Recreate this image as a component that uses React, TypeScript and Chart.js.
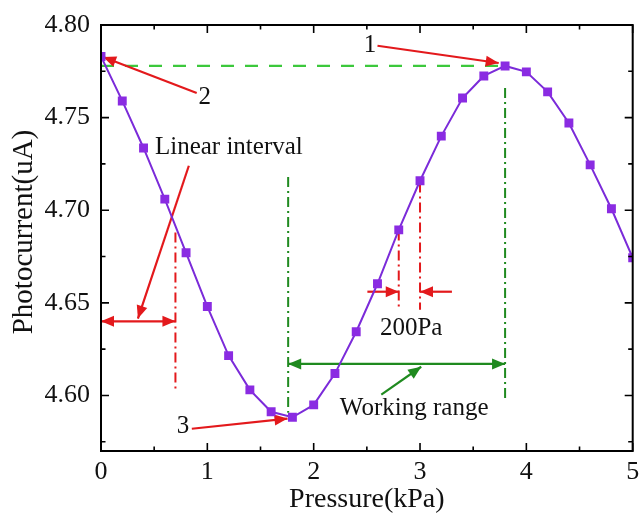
import React, { useEffect, useRef } from "react";
import { Chart, registerables } from "chart.js";

Chart.register(...registerables);

// Measured response: pressure (kPa) vs photocurrent (uA)
const pressure = [
  0, 0.2, 0.4, 0.6, 0.8, 1.0, 1.2, 1.4, 1.6, 1.8, 2.0, 2.2, 2.4,
  2.6, 2.8, 3.0, 3.2, 3.4, 3.6, 3.8, 4.0, 4.2, 4.4, 4.6, 4.8, 5.0,
];
const photocurrent = [
  4.783, 4.759, 4.7336, 4.706, 4.677, 4.648, 4.6215, 4.603, 4.5912, 4.5882,
  4.5949, 4.6118, 4.6344, 4.6603, 4.6894, 4.7159, 4.740, 4.7606, 4.7725,
  4.7779, 4.7747, 4.7639, 4.7471, 4.7245, 4.7008, 4.6743,
];
const xTicks = [0, 1, 2, 3, 4, 5];
const yTicks = [4.6, 4.65, 4.7, 4.75, 4.8];
const xMinorTicks = [0.5, 1.5, 2.5, 3.5, 4.5];
const yMinorTicks = [4.575, 4.625, 4.675, 4.725, 4.775];
const yTitle = "Photocurrent(uA)";
const xTitle = "Pressure(kPa)";

// Annotation anchors, in data units (kPa, uA)
const peakIndex = 19;
const linearEdge = 0.7;
const workingRange = [1.76, 3.8];
const stepMarks = [2.8, 3.0];

const SERIF = '"Liberation Serif", "Times New Roman", serif';
const RED = "#e3191c";
const DARK_GREEN = "#1f8a1f";
const LIGHT_GREEN = "#3cc83c";
const LINE_PURPLE = "#7b2bd9";
const MARK_PURPLE = "#8a2be2";

type Pt = [number, number];

function arrowHead(ctx: CanvasRenderingContext2D, from: Pt, to: Pt, len = 13, half = 5.5) {
  const ang = Math.atan2(to[1] - from[1], to[0] - from[0]);
  ctx.beginPath();
  ctx.moveTo(to[0], to[1]);
  ctx.lineTo(to[0] - len * Math.cos(ang) + half * Math.sin(ang), to[1] - len * Math.sin(ang) - half * Math.cos(ang));
  ctx.lineTo(to[0] - len * Math.cos(ang) - half * Math.sin(ang), to[1] - len * Math.sin(ang) + half * Math.cos(ang));
  ctx.closePath();
  ctx.fill();
}

function arrow(ctx: CanvasRenderingContext2D, from: Pt, to: Pt, color: string, both = false) {
  ctx.save();
  ctx.strokeStyle = color;
  ctx.fillStyle = color;
  ctx.lineWidth = 2.2;
  ctx.setLineDash([]);
  ctx.beginPath();
  ctx.moveTo(from[0], from[1]);
  ctx.lineTo(to[0], to[1]);
  ctx.stroke();
  arrowHead(ctx, from, to);
  if (both) arrowHead(ctx, to, from);
  ctx.restore();
}

function vline(ctx: CanvasRenderingContext2D, x: number, y1: number, y2: number, color: string) {
  ctx.save();
  ctx.strokeStyle = color;
  ctx.lineWidth = 2;
  ctx.setLineDash([10, 4, 2, 4]);
  ctx.beginPath();
  ctx.moveTo(x, y1);
  ctx.lineTo(x, y2);
  ctx.stroke();
  ctx.restore();
}

function label(ctx: CanvasRenderingContext2D, text: string, x: number, y: number, align: CanvasTextAlign = "center") {
  ctx.save();
  ctx.fillStyle = "#111";
  ctx.font = `25px ${SERIF}`;
  ctx.textAlign = align;
  ctx.textBaseline = "middle";
  ctx.fillText(text, x, y);
  ctx.restore();
}

const annotations = {
  id: "annotations",
  beforeDatasetsDraw(chart: any) {
    const { ctx } = chart;
    const xs = chart.scales.x;
    const ys = chart.scales.y;
    const P = (x: number, y: number): Pt => [xs.getPixelForValue(x), ys.getPixelForValue(y)];
    const peak = photocurrent[peakIndex];

    // reference level through the peak
    ctx.save();
    ctx.strokeStyle = LIGHT_GREEN;
    ctx.lineWidth = 2.2;
    ctx.setLineDash([13, 11]);
    ctx.beginPath();
    ctx.moveTo(...P(0, peak));
    ctx.lineTo(...P(pressure[peakIndex], peak));
    ctx.stroke();
    ctx.restore();

    // linear interval marker
    const [lx, lTop] = P(linearEdge, 4.688);
    const lBottom = ys.getPixelForValue(4.603);
    vline(ctx, lx, lTop, lBottom, RED);
    arrow(ctx, P(0, 4.64), P(linearEdge, 4.64), RED, true);
    arrow(ctx, P(0.826, 4.724), P(0.347, 4.6415), RED);

    // working range
    const [wx0] = P(workingRange[0], 0);
    const [wx1] = P(workingRange[1], 0);
    vline(ctx, wx0, ys.getPixelForValue(4.718), ys.getPixelForValue(4.5907), DARK_GREEN);
    vline(ctx, wx1, ys.getPixelForValue(4.766), ys.getPixelForValue(4.5977), DARK_GREEN);
    arrow(ctx, P(workingRange[0], 4.617), P(workingRange[1], 4.617), DARK_GREEN, true);
    arrow(ctx, P(2.636, 4.6004), P(3.011, 4.6155), DARK_GREEN);

    // 200 Pa step
    const stepBottom = ys.getPixelForValue(4.6463);
    vline(ctx, xs.getPixelForValue(stepMarks[0]), ys.getPixelForValue(4.689), stepBottom, RED);
    vline(ctx, xs.getPixelForValue(stepMarks[1]), ys.getPixelForValue(4.715), stepBottom, RED);
    arrow(ctx, P(2.505, 4.656), P(stepMarks[0], 4.656), RED);
    arrow(ctx, P(3.3, 4.656), P(stepMarks[1], 4.656), RED);

    // numbered points
    arrow(ctx, P(2.6, 4.7888), P(3.74, 4.7795), RED);
    arrow(ctx, P(0.9, 4.7633), P(0.02, 4.7827), RED);
    arrow(ctx, P(0.854, 4.582), P(1.754, 4.5875), RED);
  },
  afterDatasetsDraw(chart: any) {
    const { ctx } = chart;
    const xs = chart.scales.x;
    const ys = chart.scales.y;
    const X = (v: number) => xs.getPixelForValue(v);
    const Y = (v: number) => ys.getPixelForValue(v);
    label(ctx, "1", X(2.53), Y(4.7887));
    label(ctx, "2", X(0.976), Y(4.761));
    label(ctx, "3", X(0.77), Y(4.583));
    label(ctx, "Linear interval", X(0.507), Y(4.734), "left");
    label(ctx, "200Pa", X(2.917), Y(4.636));
    label(ctx, "Working range", X(2.945), Y(4.593));
  },
  afterDraw(chart: any) {
    const { ctx, chartArea: a } = chart;
    const xs = chart.scales.x;
    const ys = chart.scales.y;
    ctx.save();
    ctx.strokeStyle = "#000";
    ctx.lineWidth = 2;
    ctx.setLineDash([]);
    ctx.strokeRect(a.left, a.top, a.right - a.left, a.bottom - a.top);
    ctx.lineWidth = 1.6;
    ctx.beginPath();
    const xTick = (v: number, len: number) => {
      const x = xs.getPixelForValue(v);
      ctx.moveTo(x, a.bottom);
      ctx.lineTo(x, a.bottom - len);
      ctx.moveTo(x, a.top);
      ctx.lineTo(x, a.top + len);
    };
    const yTick = (v: number, len: number) => {
      const y = ys.getPixelForValue(v);
      ctx.moveTo(a.left, y);
      ctx.lineTo(a.left + len, y);
      ctx.moveTo(a.right, y);
      ctx.lineTo(a.right - len, y);
    };
    xTicks.forEach((v) => xTick(v, 8));
    xMinorTicks.forEach((v) => xTick(v, 4.5));
    yTicks.forEach((v) => yTick(v, 8));
    yMinorTicks.forEach((v) => yTick(v, 4.5));
    ctx.stroke();

    // vertical axis title, centred a little above the plot's midline
    ctx.translate(24, (a.top + a.bottom) / 2 - 6);
    ctx.rotate(-Math.PI / 2);
    ctx.fillStyle = "#111";
    ctx.font = `29px ${SERIF}`;
    ctx.textAlign = "center";
    ctx.textBaseline = "middle";
    ctx.fillText(yTitle, 0, 0);
    ctx.restore();
  },
};

export default function App() {
  const canvasRef = useRef<HTMLCanvasElement | null>(null);

  useEffect(() => {
    document.body.style.margin = "0";
    const canvas = canvasRef.current;
    if (!canvas) return;
    const chart = new Chart(canvas, {
      type: "line",
      data: {
        datasets: [
          {
            data: pressure.map((p, i) => ({ x: p, y: photocurrent[i] })),
            borderColor: LINE_PURPLE,
            borderWidth: 2,
            backgroundColor: MARK_PURPLE,
            pointBackgroundColor: MARK_PURPLE,
            pointBorderWidth: 0,
            pointStyle: "rect",
            pointRadius: 6.3,
            tension: 0,
          },
        ],
      },
      options: {
        responsive: false,
        animation: false,
        devicePixelRatio: 1,
        layout: { padding: { top: 25, right: 5, bottom: 0, left: 0 } },
        plugins: { legend: { display: false }, tooltip: { enabled: false } },
        scales: {
          x: {
            type: "linear",
            min: 0,
            max: 5,
            afterBuildTicks: (s: any) => {
              s.ticks = xTicks.map((v) => ({ value: v }));
            },
            afterFit: (s: any) => {
              s.height = 66;
              s.paddingLeft = 0;
              s.paddingRight = 0;
            },
            grid: { display: false, drawTicks: false },
            border: { display: false },
            ticks: {
              color: "#111",
              font: { family: SERIF, size: 26 },
              padding: 6,
              maxRotation: 0,
              callback: (v: any) => String(v),
            },
            title: {
              display: true,
              text: xTitle,
              color: "#111",
              font: { family: SERIF, size: 28 },
              padding: { top: 0, bottom: 1 },
            },
          },
          y: {
            type: "linear",
            min: 4.57,
            max: 4.8,
            afterBuildTicks: (s: any) => {
              s.ticks = yTicks.map((v) => ({ value: v }));
            },
            afterFit: (s: any) => {
              s.width = 101;
              s.paddingTop = 0;
              s.paddingBottom = 0;
            },
            grid: { display: false, drawTicks: false },
            border: { display: false },
            ticks: {
              color: "#111",
              font: { family: SERIF, size: 26 },
              padding: 11,
              callback: (v: any) => Number(v).toFixed(2),
            },
            title: { display: false },
          },
        },
      },
      plugins: [annotations],
    });
    return () => chart.destroy();
  }, []);

  return (
    <div style={{ width: 639, height: 517 }}>
      <canvas ref={canvasRef} width={639} height={517} />
    </div>
  );
}
